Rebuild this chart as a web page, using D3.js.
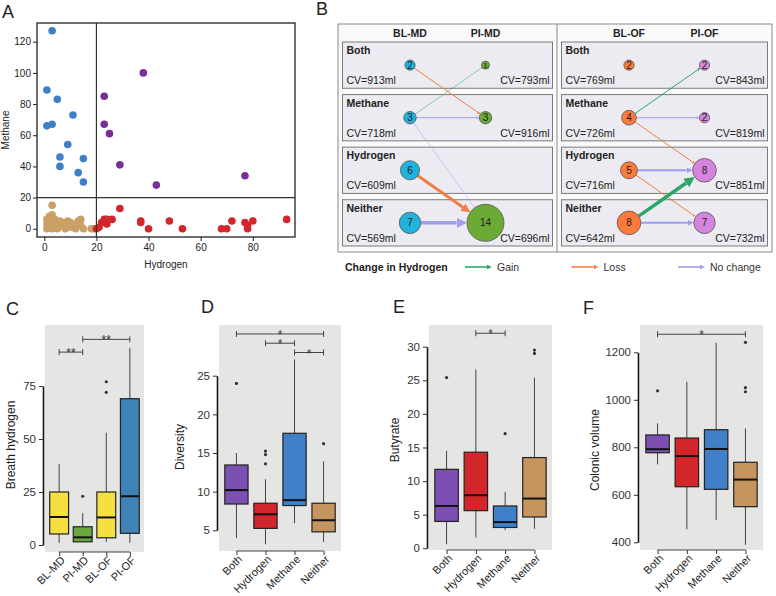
<!DOCTYPE html>
<html>
<head>
<meta charset="utf-8">
<script src="https://cdn.jsdelivr.net/npm/d3@7"></script>
<style>
  body { margin: 0; background: #fff; }
  svg { font-family: Arial, "Liberation Sans", sans-serif; }
</style>
</head>
<body>
<svg id="fig" width="776" height="596"></svg>
<script>
/* global d3 */

// ---------- data: panel A (hydrogen vs methane, ppm) ----------
const scatterBlue = [[3,127],[1,89],[5,83],[11,73],[1,66],[3,67],[9,54],[6,46],[15,45],[6,40],[13,36],[15,30]];
const scatterPurple = [[38,100],[23,85],[23,67],[25,61],[29,41],[43,28],[77,34]];
const scatterRed = [[20,0],[21,1],[22,4],[23,6],[24,3],[24,6],[26,6],[29,13],[37,5],[37,4],[40,0],[48,5],
  [53,0],[68,0],[70,0],[72,5],[77,4],[78,2],[78,0],[80,5],[93,6]];
const scatterTan = [[1,0],[1,3],[1,6],[2,2],[2,5],[2,8],[3,0],[3,4],[3,7],[3,9],[3,15],[4,2],[4,6],[5,0],
  [5,4],[6,2],[6,5],[7,4],[8,0],[8,3],[9,5],[10,1],[10,4],[11,3],[12,0],[13,5],[14,6],[14,2],[15,0],[18,0],[19,0]];
const scatterTicksX = [0, 20, 40, 60, 80];
const scatterTicksY = [0, 20, 40, 60, 80, 100, 120];
const cutoff = 20;

// ---------- data: panel B (producer status transitions) ----------
const groupRows = ['Both', 'Methane', 'Hydrogen', 'Neither'];
const mdCountsBL = [2, 3, 6, 7];
const mdCountsPI = [1, 3, null, 14];
const mdCvBL = [913, 718, 609, 569];
const mdCvPI = [793, 916, null, 696];
const ofCountsBL = [2, 4, 5, 8];
const ofCountsPI = [2, 2, 8, 7];
const ofCvBL = [769, 726, 716, 642];
const ofCvPI = [843, 819, 851, 732];
// [from, to, change, n]
const mdFlows = [['Both','Methane','loss',2],['Methane','Both','gain',1],['Methane','Methane','same',2],
  ['Methane','Neither','same',1],['Hydrogen','Neither','loss',6],['Neither','Neither','same',7]];
const ofFlows = [['Methane','Both','gain',2],['Methane','Methane','same',2],['Methane','Hydrogen','loss',2],
  ['Hydrogen','Hydrogen','same',4],['Hydrogen','Neither','loss',2],['Neither','Hydrogen','gain',7],['Neither','Neither','same',4]];
const changeLabels = [['gain','Gain'],['loss','Loss'],['same','No change']];

// ---------- data: panels C-F (box plots: lo, q1, median, q3, hi) ----------
const hydroCats = ['BL-MD', 'PI-MD', 'BL-OF', 'PI-OF'];
const hydroStats = [[1,5.2,13.2,25,38.2],[1.5,1.5,3.6,8.6,15],[1.4,3.4,13,25,53],[1,5.5,23,69,93]];
const hydroOutliers = [[], [23], [72, 77], []];
const hydroBrackets = [['BL-MD','PI-MD',91,'**'],['PI-MD','PI-OF',97,'**']];
const hydroTicks = [0, 25, 50, 75];

const groupCats = ['Both', 'Hydrogen', 'Methane', 'Neither'];
const diversityStats = [[4,8.4,10.2,13.45,15],[3.2,5.25,7.07,8.5,11.6],[5.9,8.2,8.9,17.55,27.1],[3.5,4.8,6.3,8.5,13.9]];
const diversityOutliers = [[24], [13.6, 14.8, 15.25], [], [16.2]];
const diversityBrackets = [['Both','Neither',30.4,'*'],['Hydrogen','Methane',29.2,'*'],['Methane','Neither',28,'*']];
const diversityTicks = [5, 10, 15, 20, 25];

const butyrateStats = [[0.6,4,6.3,11.75,14.5],[1.6,5.6,7.9,14.3,26.6],[2.7,3.1,3.9,6.3,8.4],[2.9,4.66,7.4,13.5,25.4]];
const butyrateOutliers = [[25.4], [], [17.05], [29, 29.5]];
const butyrateBrackets = [['Hydrogen','Methane',32,'*']];
const butyrateTicks = [0, 5, 10, 15, 20, 25, 30];

const volumeStats = [[728,777,792,852,901],[455,634,763,839,1076],[494,623,793,874,1240],[389,550,664,737,880]];
const volumeOutliers = [[1038], [], [], [1034, 1051, 1242]];
const volumeBrackets = [['Both','Neither',1276,'*']];
const volumeTicks = [400, 600, 800, 1000, 1200];

// ---------- colours ----------
const scatterColors = { blue: '#3f7fca', purple: '#7a2e9c', red: '#d1262b', tan: '#c9a066' };
const hydroColors = ['#f6e03f', '#68a83f', '#f6e03f', '#3e82b6'];
const groupColors = ['#7c4fb3', '#d2262b', '#3f80c8', '#c6955f'];
const changeColors = { gain: '#2aa86a', loss: '#f47d45', same: '#a19df0' };
const blColors = { MD: '#20b4dc', OF: '#fb7a3c' };
const piColors = { MD: '#6aaa35', OF: '#d584e0' };

const svg = d3.select('#fig');

function letter(t, x, y) {
  svg.append('text').attr('x', x).attr('y', y).attr('font-size', 18).attr('fill', '#222').text(t);
}

// ================= Panel A =================
function drawScatter() {
  const x = d3.scaleLinear().domain([-2.8, 96.2]).range([37, 295]);
  const y = d3.scaleLinear().domain([-5.3, 132]).range([237, 23]);
  const g = svg.append('g');

  const ax = g.append('g').attr('transform', 'translate(0,237)')
    .call(d3.axisBottom(x).tickValues(scatterTicksX).tickSize(4).tickPadding(3));
  const ay = g.append('g').attr('transform', 'translate(37,0)')
    .call(d3.axisLeft(y).tickValues(scatterTicksY).tickSize(4).tickPadding(2));
  [ax, ay].forEach((a) => {
    a.select('.domain').remove();
    a.selectAll('text').attr('font-size', 10).attr('font-family', 'Arial').attr('fill', '#222');
    a.selectAll('line').attr('stroke', '#222');
  });

  const sets = [[scatterTan, 'tan'], [scatterRed, 'red'], [scatterBlue, 'blue'], [scatterPurple, 'purple']];
  sets.forEach(([pts, c]) => {
    g.append('g').selectAll('circle').data(pts).join('circle')
      .attr('cx', (d) => x(d[0])).attr('cy', (d) => y(d[1])).attr('r', 3.8)
      .attr('fill', scatterColors[c]);
  });

  g.append('line').attr('x1', x(cutoff)).attr('x2', x(cutoff)).attr('y1', 23).attr('y2', 237)
    .attr('stroke', '#333').attr('stroke-width', 1.2);
  g.append('line').attr('x1', 37).attr('x2', 295).attr('y1', y(cutoff)).attr('y2', y(cutoff))
    .attr('stroke', '#333').attr('stroke-width', 1.2);
  g.append('rect').attr('x', 37).attr('y', 23).attr('width', 258).attr('height', 214)
    .attr('fill', 'none').attr('stroke', '#222').attr('stroke-width', 1.3);

  g.append('text').attr('x', 166).attr('y', 268).attr('text-anchor', 'middle')
    .attr('font-size', 10).attr('fill', '#222').text('Hydrogen');
  g.append('text').attr('transform', 'translate(9,130) rotate(-90)').attr('text-anchor', 'middle')
    .attr('font-size', 10).attr('fill', '#222').text('Methane');
  letter('A', 2, 18);
}

// ================= Panel B =================
function drawTransitions() {
  const box = { x0: 338, y0: 24, x1: 772, y1: 252, mid: 557 };
  const g = svg.append('g');
  g.append('rect').attr('x', box.x0).attr('y', box.y0).attr('width', box.x1 - box.x0)
    .attr('height', box.y1 - box.y0).attr('fill', '#fafafb').attr('stroke', '#8a8a8a');
  g.append('line').attr('x1', box.mid).attr('x2', box.mid).attr('y1', box.y0).attr('y2', box.y1)
    .attr('stroke', '#8a8a8a');

  const defs = svg.append('defs');
  Object.entries(changeColors).forEach(([k, c]) => {
    defs.append('marker').attr('id', 'arr-' + k).attr('viewBox', '0 -5 10 10')
      .attr('refX', 0).attr('refY', 0).attr('markerWidth', 3).attr('markerHeight', 3)
      .attr('orient', 'auto').attr('markerUnits', 'strokeWidth')
      .append('path').attr('d', 'M0,-5L10,0L0,5Z').attr('fill', c);
  });

  const row = d3.scaleBand().domain(groupRows).range([42, 246]).paddingInner(0.12);
  const rad = d3.scaleLinear().domain([1, 14]).range([4, 18.5]);

  const halves = [
    { key: 'MD', x0: box.x0, x1: box.mid, bl: mdCountsBL, pi: mdCountsPI, cvBL: mdCvBL, cvPI: mdCvPI, flows: mdFlows },
    { key: 'OF', x0: box.mid, x1: box.x1, bl: ofCountsBL, pi: ofCountsPI, cvBL: ofCvBL, cvPI: ofCvPI, flows: ofFlows },
  ];

  halves.forEach((h) => {
    const col = d3.scalePoint().domain(['BL', 'PI']).range([h.x0 + 72, h.x0 + 147.5]);
    const sx0 = h.x0 + 4.5, sx1 = h.x1 - 4.5;
    ['BL', 'PI'].forEach((c) => {
      g.append('text').attr('x', col(c)).attr('y', 37).attr('text-anchor', 'middle')
        .attr('font-size', 10.5).attr('font-weight', 'bold').attr('fill', '#222').text(c + '-' + h.key);
    });

    groupRows.forEach((r, i) => {
      const y0 = row(r);
      g.append('rect').attr('x', sx0).attr('y', y0).attr('width', sx1 - sx0).attr('height', row.bandwidth())
        .attr('fill', '#ebebf1').attr('stroke', '#7a7a7a');
      g.append('text').attr('x', sx0 + 4).attr('y', y0 + 12).attr('font-size', 10.5)
        .attr('font-weight', 'bold').attr('fill', '#222').text(r);
      g.append('text').attr('x', sx0 + 4).attr('y', y0 + 42).attr('font-size', 10.5)
        .attr('fill', '#222').text('CV=' + h.cvBL[i] + 'ml');
      if (h.cvPI[i] != null) {
        g.append('text').attr('x', sx1 - 3).attr('y', y0 + 42).attr('text-anchor', 'end')
          .attr('font-size', 10.5).attr('fill', '#222').text('CV=' + h.cvPI[i] + 'ml');
      }
    });

    const cy = (r) => row(r) + row.bandwidth() / 2;
    const idx = (r) => groupRows.indexOf(r);

    // flows
    h.flows.forEach(([from, to, kind, n]) => {
      const w = n * 0.5;
      const x1 = col('BL'), y1 = cy(from), x2 = col('PI'), y2 = cy(to);
      const len = Math.hypot(x2 - x1, y2 - y1);
      const ux = (x2 - x1) / len, uy = (y2 - y1) / len;
      const r1 = rad(h.bl[idx(from)]), r2 = rad(h.pi[idx(to)]) + 3 * w;
      g.append('line')
        .attr('x1', x1 + ux * r1).attr('y1', y1 + uy * r1)
        .attr('x2', x2 - ux * r2).attr('y2', y2 - uy * r2)
        .attr('stroke', changeColors[kind]).attr('stroke-width', w)
        .attr('marker-end', 'url(#arr-' + kind + ')');
    });

    // circles
    [['BL', h.bl, blColors[h.key]], ['PI', h.pi, piColors[h.key]]].forEach(([c, counts, color]) => {
      groupRows.forEach((r, i) => {
        if (counts[i] == null) return;
        g.append('circle').attr('cx', col(c)).attr('cy', cy(r)).attr('r', rad(counts[i]))
          .attr('fill', color).attr('stroke', '#555').attr('stroke-width', 0.8);
        g.append('text').attr('x', col(c)).attr('y', cy(r)).attr('dy', '0.36em')
          .attr('text-anchor', 'middle').attr('font-size', counts[i] > 1 ? 10 : 8).attr('fill', '#222')
          .text(counts[i]);
      });
    });
  });

  // legend
  g.append('text').attr('x', 345).attr('y', 271).attr('font-size', 10.5).attr('font-weight', 'bold')
    .attr('fill', '#222').text('Change in Hydrogen');
  const legX = d3.scalePoint().domain(changeLabels.map((d) => d[0])).range([465, 678]);
  changeLabels.forEach(([k, label]) => {
    const lx = legX(k);
    g.append('line').attr('x1', lx).attr('x2', lx + 22).attr('y1', 267).attr('y2', 267)
      .attr('stroke', changeColors[k]).attr('stroke-width', 1.6).attr('marker-end', 'url(#arr-' + k + ')');
    g.append('text').attr('x', lx + 32).attr('y', 271).attr('font-size', 10.5).attr('fill', '#333').text(label);
  });
  letter('B', 316, 15);
}

// ================= Panels C-F =================
function drawBoxPanel(cfg) {
  const [bx0, by0, bx1, by1] = cfg.bg;
  const g = svg.append('g');
  g.append('rect').attr('x', bx0).attr('y', by0).attr('width', bx1 - bx0).attr('height', by1 - by0)
    .attr('fill', '#e5e5e4');

  const y = d3.scaleLinear().domain([cfg.yMap[0][0], cfg.yMap[1][0]]).range([cfg.yMap[0][1], cfg.yMap[1][1]]);
  const x = d3.scalePoint().domain(cfg.cats).range([bx0, bx1]).padding(0.6);
  const bw = x.step() * 0.8;

  const ay = g.append('g').attr('transform', `translate(${bx0 - 2},0)`)
    .call(d3.axisLeft(y).tickValues(cfg.ticks).tickFormat(d3.format('d'))
      .tickSize(4).tickSizeOuter(0).tickPadding(3));
  ay.select('.domain').attr('stroke', '#111').attr('stroke-width', 1.6);
  ay.selectAll('.tick line').attr('stroke', '#333');
  ay.selectAll('text').attr('font-size', 11.5).attr('font-family', 'Arial').attr('fill', '#333');

  const axg = g.append('g').attr('transform', `translate(0,${by1})`)
    .call(d3.axisBottom(x).tickSize(4).tickSizeOuter(0));
  axg.select('.domain').remove();
  axg.selectAll('.tick line').attr('stroke', '#333');
  axg.selectAll('text').attr('font-size', 11).attr('font-family', 'Arial').attr('fill', '#222')
    .attr('x', 0).attr('y', 0).attr('dy', 0)
    .attr('transform', 'translate(6,9) rotate(-45)').style('text-anchor', 'end');
  g.append('line').attr('x1', x(cfg.cats[0])).attr('x2', x(cfg.cats[cfg.cats.length - 1]))
    .attr('y1', by1).attr('y2', by1).attr('stroke', '#444').attr('stroke-width', 1.2);

  cfg.cats.forEach((c, i) => {
    const [lo, q1, md, q3, hi] = cfg.stats[i];
    const cx = x(c);
    g.append('line').attr('x1', cx).attr('x2', cx).attr('y1', y(lo)).attr('y2', y(q1)).attr('stroke', '#444');
    g.append('line').attr('x1', cx).attr('x2', cx).attr('y1', y(q3)).attr('y2', y(hi)).attr('stroke', '#444');
    g.append('rect').attr('x', cx - bw / 2).attr('y', y(q3)).attr('width', bw).attr('height', y(q1) - y(q3))
      .attr('fill', cfg.colors[i]).attr('stroke', '#222').attr('stroke-width', 1.2);
    g.append('line').attr('x1', cx - bw / 2).attr('x2', cx + bw / 2).attr('y1', y(md)).attr('y2', y(md))
      .attr('stroke', '#111').attr('stroke-width', 2);
    g.selectAll(null).data(cfg.outliers[i]).join('circle')
      .attr('cx', cx).attr('cy', (d) => y(d)).attr('r', 1.6).attr('fill', '#333');
  });

  cfg.brackets.forEach(([a, b, v, lab]) => {
    const yy = y(v), xa = x(a), xb = x(b);
    g.append('path').attr('d', `M${xa},${yy - 3}V${yy + 3}M${xa},${yy}H${xb}M${xb},${yy - 3}V${yy + 3}`)
      .attr('stroke', '#444').attr('fill', 'none');
    g.append('text').attr('x', (xa + xb) / 2).attr('y', yy + 5).attr('text-anchor', 'middle')
      .attr('font-size', 12).attr('fill', '#333').text(lab);
  });

  g.append('text').attr('transform', `translate(${cfg.tx + 4},${cfg.ty}) rotate(-90)`)
    .attr('text-anchor', 'middle').attr('font-size', 12).attr('fill', '#222').text(cfg.title);
  letter(cfg.letter, cfg.lx, cfg.ly);
}

drawScatter();
drawTransitions();

drawBoxPanel({ letter: 'C', lx: 6, ly: 315, bg: [45, 325, 144, 552], yMap: [[0, 545], [75, 386]],
  cats: hydroCats, stats: hydroStats, outliers: hydroOutliers, brackets: hydroBrackets, ticks: hydroTicks,
  colors: hydroColors, title: 'Breath hydrogen', tx: 11, ty: 445 });
drawBoxPanel({ letter: 'D', lx: 201, ly: 313, bg: [219, 325, 341, 551], yMap: [[5, 530.3], [25, 375.7]],
  cats: groupCats, stats: diversityStats, outliers: diversityOutliers, brackets: diversityBrackets, ticks: diversityTicks,
  colors: groupColors, title: 'Diversity', tx: 180, ty: 447 });
drawBoxPanel({ letter: 'E', lx: 393, ly: 313, bg: [429, 325, 552, 550], yMap: [[0, 548.3], [30, 346.7]],
  cats: groupCats, stats: butyrateStats, outliers: butyrateOutliers, brackets: butyrateBrackets, ticks: butyrateTicks,
  colors: groupColors, title: 'Butyrate', tx: 395, ty: 440 });
drawBoxPanel({ letter: 'F', lx: 583, ly: 314, bg: [640, 325, 763, 550], yMap: [[400, 542.3], [1200, 352.3]],
  cats: groupCats, stats: volumeStats, outliers: volumeOutliers, brackets: volumeBrackets, ticks: volumeTicks,
  colors: groupColors, title: 'Colonic volume', tx: 595, ty: 450 });
</script>
</body>
</html>
